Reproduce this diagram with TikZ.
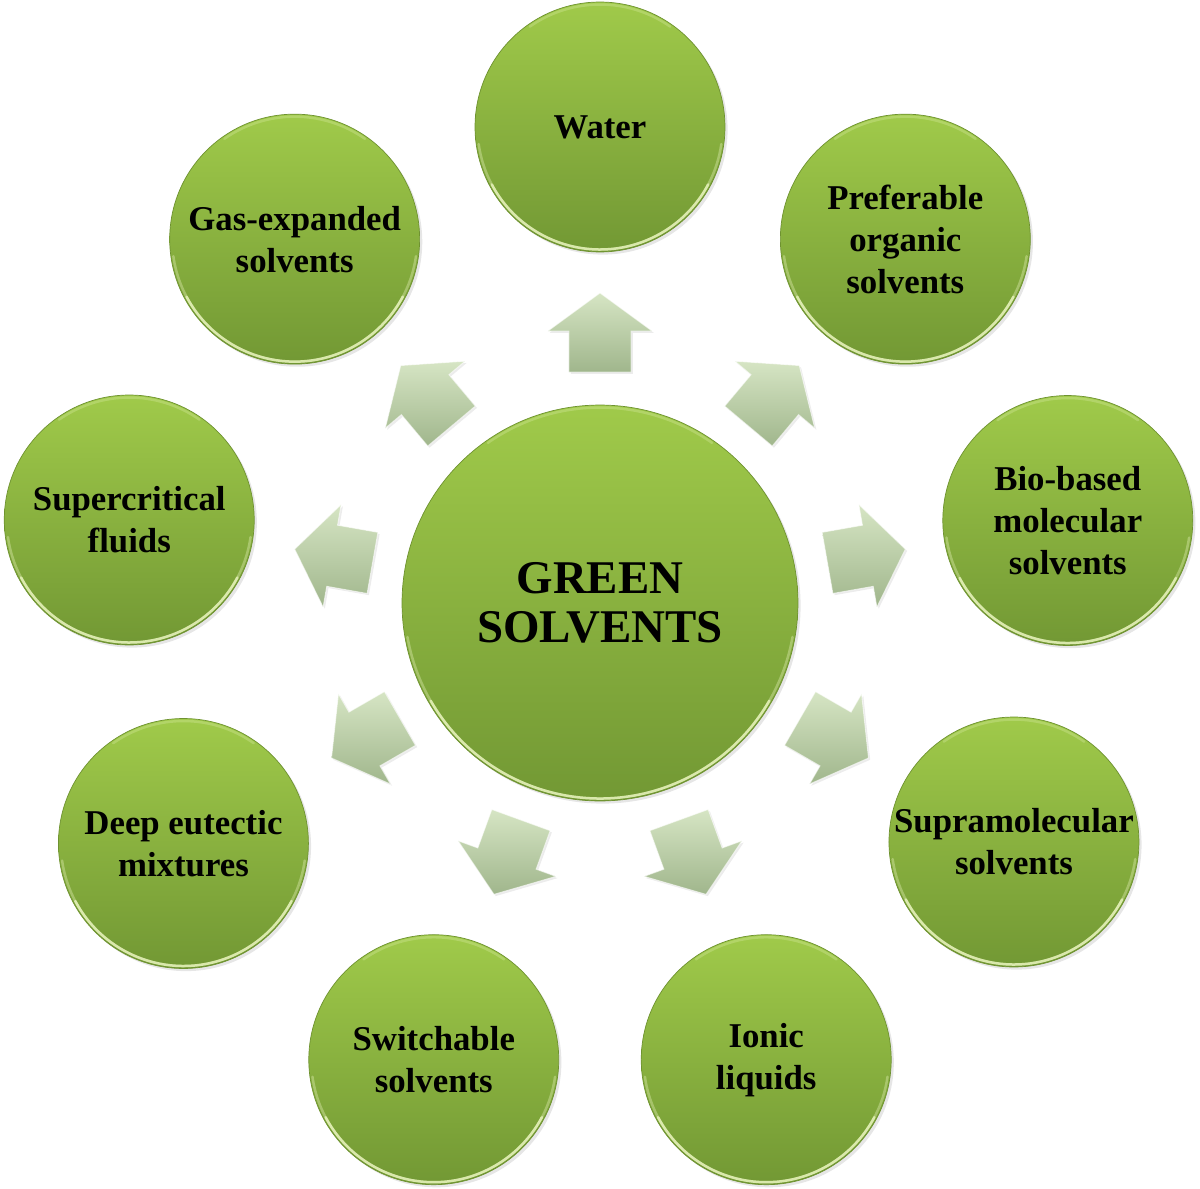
\documentclass[tikz,border=0pt]{standalone}
\usepackage{fontspec}
\setmainfont{Liberation Serif}
\usepackage{tikz}
\usepackage{xcolor}
\usetikzlibrary{shadows,calc}

\definecolor{ballhi}{RGB}{160,202,74}
\definecolor{balllo}{RGB}{114,152,52}
\definecolor{ballrim}{RGB}{110,146,48}
\definecolor{rimlight}{RGB}{238,248,196}
\definecolor{arrhi}{RGB}{214,229,196}
\definecolor{arrlo}{RGB}{160,182,140}

\begin{document}
\begin{tikzpicture}[x=0.02cm,y=0.02cm,
  ball/.style={circle,inner sep=0pt,minimum size=5cm,top color=ballhi,bottom color=balllo,
    draw=ballrim,line width=0.4pt,drop shadow={opacity=0.2,shadow xshift=1.5pt,shadow yshift=-1.5pt}},
  bigball/.style={ball,minimum size=7.92cm},
  balltext/.style={align=center,font=\bfseries\fontsize{19.8}{23.9}\selectfont},
  bigtext/.style={align=center,font=\bfseries\fontsize{26.7}{28.2}\selectfont},
  shine/.style={rimlight,line width=0.05cm,line cap=round,opacity=0.75},
  blockarrow/.style={top color=arrhi,bottom color=arrlo,draw=white,draw opacity=0.6,line width=0.5pt,
    drop shadow={opacity=0.15,shadow xshift=1pt,shadow yshift=-1pt}}]
\useasboundingbox (-600,-585) rectangle (600,603);

\node[bigball] (gs) at (0,0) {};
\draw[shine,opacity=0.35] (gs.center) ++(190:195.5) arc (190:350:195.5);
\draw[shine] (gs.center) ++(210:195.5) arc (210:330:195.5);
\draw[shine,opacity=0.25] (gs.center) ++(55:195.5) arc (55:125:195.5);
\node[bigtext] (gs-t) at (gs) {GREEN\\SOLVENTS};

\foreach \ang/\rad/\nm/\txt in {90/476/water/Water,
    50/475/pref/{Preferable\\organic\\solvents},
    10/475/bio/{Bio-based\\molecular\\solvents},
    -30/478/supra/{Supramolecular\\solvents},
    -70/486/ionic/{Ionic\\liquids},
    -110/486/switch/{Switchable\\solvents},
    -150/481/deep/{Deep eutectic\\mixtures},
    170/478/scf/{Supercritical\\fluids},
    130/475/gas/{Gas-expanded\\solvents}}{
  \node[ball] (\nm) at ($(gs.center)+(\ang:\rad)$) {};
  \draw[shine,opacity=0.35] (\nm.center) ++(188:122.5) arc (188:352:122.5);
  \draw[shine] (\nm.center) ++(208:122.5) arc (208:332:122.5);
  \draw[shine,opacity=0.25] (\nm.center) ++(55:122.5) arc (55:125:122.5);
  \node[balltext] (\nm-t) at (\nm) {\txt};
}

\foreach \ang in {90,50,...,-230}
  \path[blockarrow,shift={(gs.center)},rotate=\ang]
    (231,-31) -- (272,-31) -- (272,-52) -- (310,0) -- (272,52) -- (272,31) -- (231,31) -- cycle;
\end{tikzpicture}
\end{document}
